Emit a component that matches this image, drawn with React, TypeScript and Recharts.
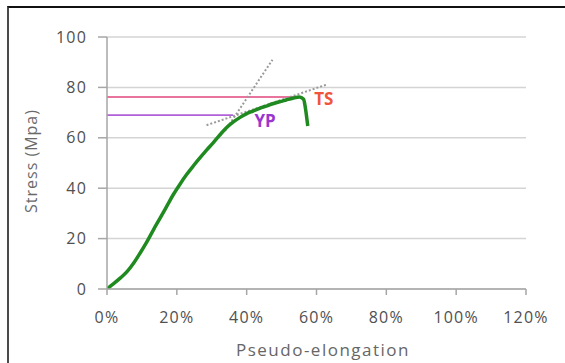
import React from 'react';
import { LineChart, Line, XAxis, YAxis, CartesianGrid, ReferenceDot } from 'recharts';

// Stress–strain curve (pseudo-elongation in %, stress in MPa)
const elongation = [0, 1.8, 3.85, 5.8, 7.6, 9.5, 11.45, 13.3, 15.2, 17.1, 19.0, 20.9, 22.8, 24.7, 26.6, 28.5, 30.4, 32.3, 34.2, 36.1, 38.0, 39.9, 41.8, 43.7, 45.6, 47.5, 49.4, 51.3, 53.2, 55.1, 56.3, 56.8, 57.2, 57.5];
const stress = [0, 2.0, 4.4, 7.0, 10.2, 14.3, 18.8, 23.5, 28.1, 32.8, 37.5, 41.6, 45.4, 48.8, 52.0, 55.1, 58.0, 61.1, 64.0, 66.2, 68.0, 69.5, 70.6, 71.7, 72.6, 73.5, 74.3, 75.0, 75.7, 76.2, 75.3, 72.0, 68.0, 64.7];

// Tensile strength (TS) and yield point (YP) horizontal markers
const tsLineX = [0, 54.5];
const tsValue = 76.2;
const ypLineX = [0, 36.1];
const ypValue = 69.0;

// Dotted tangent construction lines
const elasticTangentX = [33.8, 47.4];
const elasticTangentY = [62.7, 91.0];
const plasticTangentX = [28.5, 63.1];
const plasticTangentY = [65.0, 81.2];

// Annotation label anchors
const tsLabel = { text: 'TS', x: 62.1, y: 75.6 };
const ypLabel = { text: 'YP', x: 45.3, y: 66.5 };

const xTicks = [0, 20, 40, 60, 80, 100, 120];
const yTicks = [0, 20, 40, 60, 80, 100];

const mainData = elongation.map((x, i) => ({ x, y: stress[i] }));
const tsData = tsLineX.map((x) => ({ x, y: tsValue }));
const ypData = ypLineX.map((x) => ({ x, y: ypValue }));
const elasticData = elasticTangentX.map((x, i) => ({ x, y: elasticTangentY[i] }));
const plasticData = plasticTangentX.map((x, i) => ({ x, y: plasticTangentY[i] }));

const FONT = '"Open Sans", "DejaVu Sans", sans-serif';
const AXIS = '#a6a6a6';
const TICK_TEXT = { fill: '#505050', fontSize: 16, letterSpacing: 1.2, fontFamily: FONT };

export default function App() {
  return (
    <div style={{ position: 'absolute', left: 0, top: 0, width: 565, height: 363, overflow: 'hidden', background: '#ffffff' }}>
      <div style={{ position: 'absolute', left: 7, top: 6, width: 600, height: 400, borderLeft: '2px solid #4a4a4a', borderTop: '2px solid #111111' }} />
      <div style={{ position: 'absolute', left: 0, top: 0 }}>
        <LineChart
          width={565}
          height={363}
          margin={{ top: 37, right: 39, bottom: 0, left: 0 }}
          style={{ fontFamily: FONT }}
        >
          <CartesianGrid vertical={false} stroke="#d4d4d4" strokeWidth={1.5} />
          <XAxis
            dataKey="x"
            type="number"
            domain={[0, 120]}
            ticks={xTicks}
            tickFormatter={(v: number) => `${v}%`}
            height={74}
            tickSize={6}
            tickMargin={17}
            stroke={AXIS}
            strokeWidth={1.5}
            tick={TICK_TEXT}
            interval={0}
            allowDataOverflow
            label={{
              content: () => (
                <text x={323} y={356} textAnchor="middle" fill="#666666" fontSize={17} letterSpacing={1.5} fontFamily={FONT}>
                  Pseudo-elongation
                </text>
              ),
            }}
          />
          <YAxis
            dataKey="y"
            type="number"
            domain={[0, 100]}
            ticks={yTicks}
            width={107}
            tickSize={9}
            tickMargin={11}
            stroke={AXIS}
            strokeWidth={1.5}
            tick={TICK_TEXT}
            interval={0}
            allowDataOverflow
            label={{
              content: () => (
                <text transform="translate(31,161) rotate(-90)" x={0} y={0} textAnchor="middle" dominantBaseline="central" fill="#6a6a6a" fontSize={16} letterSpacing={1} fontFamily={FONT}>
                  Stress (Mpa)
                </text>
              ),
            }}
          />
          <Line data={tsData} dataKey="y" type="linear" stroke="#e0457b" strokeWidth={1.6} dot={false} isAnimationActive={false} />
          <Line data={ypData} dataKey="y" type="linear" stroke="#b060d8" strokeWidth={1.6} dot={false} isAnimationActive={false} />
          <Line data={elasticData} dataKey="y" type="linear" stroke="#9a9a9a" strokeWidth={2} strokeDasharray="2 2" dot={false} isAnimationActive={false} />
          <Line data={plasticData} dataKey="y" type="linear" stroke="#9a9a9a" strokeWidth={2} strokeDasharray="2 2" dot={false} isAnimationActive={false} />
          <Line data={mainData} dataKey="y" type="monotone" stroke="#1f8a1f" strokeWidth={3.5} dot={false} isAnimationActive={false} />
          <ReferenceDot
            x={tsLabel.x}
            y={tsLabel.y}
            r={0}
            fill="none"
            stroke="none"
            label={{ value: tsLabel.text, position: 'center', fill: '#f0553c', fontSize: 17, fontWeight: 700, fontFamily: FONT }}
          />
          <ReferenceDot
            x={ypLabel.x}
            y={ypLabel.y}
            r={0}
            fill="none"
            stroke="none"
            label={{ value: ypLabel.text, position: 'center', fill: '#9b35cf', fontSize: 17, fontWeight: 700, fontFamily: FONT }}
          />
        </LineChart>
      </div>
    </div>
  );
}
